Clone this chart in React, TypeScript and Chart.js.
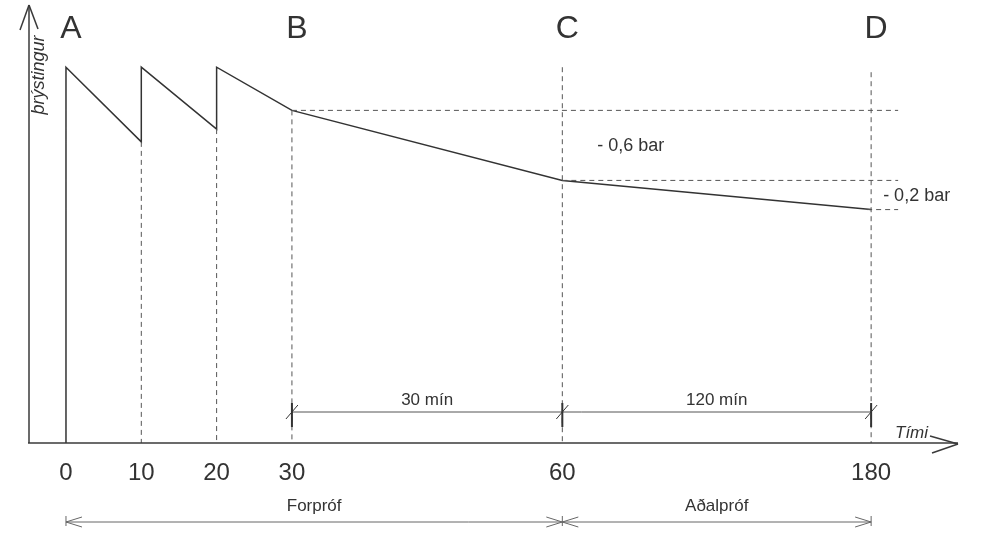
import React, { useEffect, useRef } from "react";
import { Chart, registerables } from "chart.js";

Chart.register(...registerables);

// ---- data ----
const timeTicks = [0, 10, 20, 30, 60, 180]; // minutes shown on the time axis
const tickPositions = [0, 10, 20, 30, 65.9, 106.9]; // position of each tick on the (broken) drawn axis
const pressureTimes = [0, 0, 10, 10, 20, 20, 30, 60, 180];
const pressureValues = [0, 3.22, 2.58, 3.22, 2.69, 3.22, 2.85, 2.25, 2.0];
const phaseLetters = ["A", "B", "C", "D"];
const phaseTimes = [0, 30, 60, 180];
const phasePressures = [3.22, 2.85, 2.25, 2.0];
const dropLabels = ["- 0,6 bar", "- 0,2 bar"];
const intervalLabels = ["30 mín", "120 mín"];
const intervalTimes = [30, 60, 180];
const stageLabels = ["Forpróf", "Aðalpróf"];
const stageTimes = [0, 60, 180];
const guideTimes = [10, 20, 30];
const guideTops = [2.58, 2.69, 2.85];
const xAxisTitle = "Tími";
const yAxisTitle = "þrýstingur";

const FONT = "'Liberation Sans', Arial, sans-serif";
const INK = "#333333";

function timeToPos(t: number): number {
  for (let i = 1; i < timeTicks.length; i++) {
    if (t <= timeTicks[i]) {
      const a = timeTicks[i - 1], b = timeTicks[i];
      const pa = tickPositions[i - 1], pb = tickPositions[i];
      return pa + ((t - a) / (b - a)) * (pb - pa);
    }
  }
  return tickPositions[tickPositions.length - 1];
}

const diagramPlugin = {
  id: "diagram",
  afterDraw(chart: any) {
    const ctx: CanvasRenderingContext2D = chart.ctx;
    const xs = chart.scales.x;
    const ys = chart.scales.y;
    const X = (t: number) => xs.getPixelForValue(timeToPos(t));
    const Y = (p: number) => ys.getPixelForValue(p);
    const area = chart.chartArea;
    const base = area.bottom;

    ctx.save();
    // dashed guides
    ctx.strokeStyle = "#555";
    ctx.lineWidth = 1;
    ctx.setLineDash([5, 4]);
    const seg = (x1: number, y1: number, x2: number, y2: number) => {
      ctx.beginPath();
      ctx.moveTo(x1, y1);
      ctx.lineTo(x2, y2);
      ctx.stroke();
    };
    guideTimes.forEach((t, i) => seg(X(t), Y(guideTops[i]), X(t), base));
    seg(X(60), Y(phasePressures[0]), X(60), base);
    seg(X(180), Y(phasePressures[0]) + 5, X(180), base);
    const rightEnd = X(180) + 27;
    seg(X(30), Y(phasePressures[1]), rightEnd, Y(phasePressures[1]));
    seg(X(60), Y(phasePressures[2]), rightEnd, Y(phasePressures[2]));
    seg(X(180) - 4, Y(phasePressures[3]), rightEnd, Y(phasePressures[3]));
    ctx.setLineDash([]);

    // axes with arrows
    ctx.strokeStyle = "#3a3a3a";
    ctx.lineWidth = 1.5;
    const yAxisX = area.left;
    seg(yAxisX, base, yAxisX, area.top);
    seg(yAxisX, area.top, yAxisX - 9, area.top + 25);
    seg(yAxisX, area.top, yAxisX + 9, area.top + 24);
    const tipX = area.right - 2;
    seg(yAxisX - 1, base, tipX, base);
    seg(tipX, base + 1, tipX - 28, base - 7);
    seg(tipX, base + 1, tipX - 26, base + 10);

    // dimension line (30 mín / 120 mín)
    const dimY = base - 31;
    ctx.lineWidth = 1;
    ctx.strokeStyle = "#555";
    seg(X(intervalTimes[0]), dimY, X(intervalTimes[2]), dimY);
    intervalTimes.forEach((t) => {
      const x = X(t);
      ctx.lineWidth = 2;
      ctx.strokeStyle = "#333";
      seg(x, dimY - 9, x, dimY + 15);
      ctx.lineWidth = 1;
      seg(x - 6, dimY + 7, x + 6, dimY - 7);
    });

    // stage line with arrows
    const stY = base + 79;
    ctx.strokeStyle = "#666";
    ctx.lineWidth = 1;
    seg(X(stageTimes[0]), stY, X(stageTimes[2]), stY);
    const head = (x: number, dir: number) => {
      seg(x, stY, x + dir * 16, stY - 5);
      seg(x, stY, x + dir * 16, stY + 5);
    };
    head(X(stageTimes[0]), 1);
    head(X(stageTimes[1]), -1);
    head(X(stageTimes[1]), 1);
    head(X(stageTimes[2]), -1);
    stageTimes.forEach((t) => seg(X(t), stY - 6, X(t), stY + 4));

    // texts
    ctx.fillStyle = INK;
    ctx.textBaseline = "alphabetic";
    ctx.textAlign = "center";
    ctx.font = `32px ${FONT}`;
    phaseLetters.forEach((l, i) => ctx.fillText(l, X(phaseTimes[i]) + 5, 38));

    ctx.font = `17px ${FONT}`;
    intervalLabels.forEach((l, i) =>
      ctx.fillText(l, (X(intervalTimes[i]) + X(intervalTimes[i + 1])) / 2, dimY - 7)
    );
    stageLabels.forEach((l, i) =>
      ctx.fillText(l, (X(stageTimes[i]) + X(stageTimes[i + 1])) / 2, stY - 11)
    );

    ctx.textAlign = "left";
    ctx.font = `18px ${FONT}`;
    ctx.fillText(dropLabels[0], X(60) + 35, (Y(phasePressures[1]) + Y(phasePressures[2])) / 2 + 6);
    ctx.fillText(dropLabels[1], X(180) + 12, (Y(phasePressures[2]) + Y(phasePressures[3])) / 2 + 6);

    ctx.font = `italic 17px ${FONT}`;
    ctx.fillText(xAxisTitle, tipX - 63, base - 5);

    ctx.save();
    ctx.translate(yAxisX + 15, 75);
    ctx.rotate(-Math.PI / 2);
    ctx.textAlign = "center";
    ctx.font = `italic 18px ${FONT}`;
    ctx.fillText(yAxisTitle, 0, 0);
    ctx.restore();

    ctx.restore();
  },
};

export default function App() {
  const ref = useRef<HTMLCanvasElement | null>(null);

  useEffect(() => {
    if (!ref.current) return;
    const points = pressureTimes.map((t, i) => ({ x: timeToPos(t), y: pressureValues[i] }));
    const chart = new Chart(ref.current, {
      type: "line",
      data: {
        datasets: [
          {
            data: points,
            borderColor: "#333333",
            borderWidth: 1.5,
            pointRadius: 0,
            tension: 0,
            fill: false,
          },
        ],
      },
      options: {
        animation: false,
        responsive: false,
        maintainAspectRatio: false,
        layout: { padding: { left: 29, right: 32, top: 5, bottom: 0 } },
        plugins: { legend: { display: false }, tooltip: { enabled: false } },
        scales: {
          x: {
            type: "linear",
            min: -4.91,
            max: 118.7,
            grid: { display: false, drawTicks: false },
            border: { display: false },
            afterBuildTicks: (scale: any) => {
              scale.ticks = tickPositions.map((v) => ({ value: v }));
            },
            afterFit: (scale: any) => {
              scale.height = 94;
            },
            ticks: {
              autoSkip: false,
              maxRotation: 0,
              padding: 16,
              color: INK,
              font: { family: FONT, size: 24 },
              callback: (value: any) => {
                const i = tickPositions.indexOf(Number(value));
                return i >= 0 ? String(timeTicks[i]) : "";
              },
            },
          },
          y: {
            display: false,
            min: 0,
            max: 3.753,
          },
        },
      },
      plugins: [diagramPlugin],
    });
    return () => chart.destroy();
  }, []);

  return (
    <div style={{ position: "fixed", left: 0, top: 0, width: 992, height: 537, background: "#fff" }}>
      <canvas ref={ref} width={992} height={537} style={{ display: "block" }} />
    </div>
  );
}
